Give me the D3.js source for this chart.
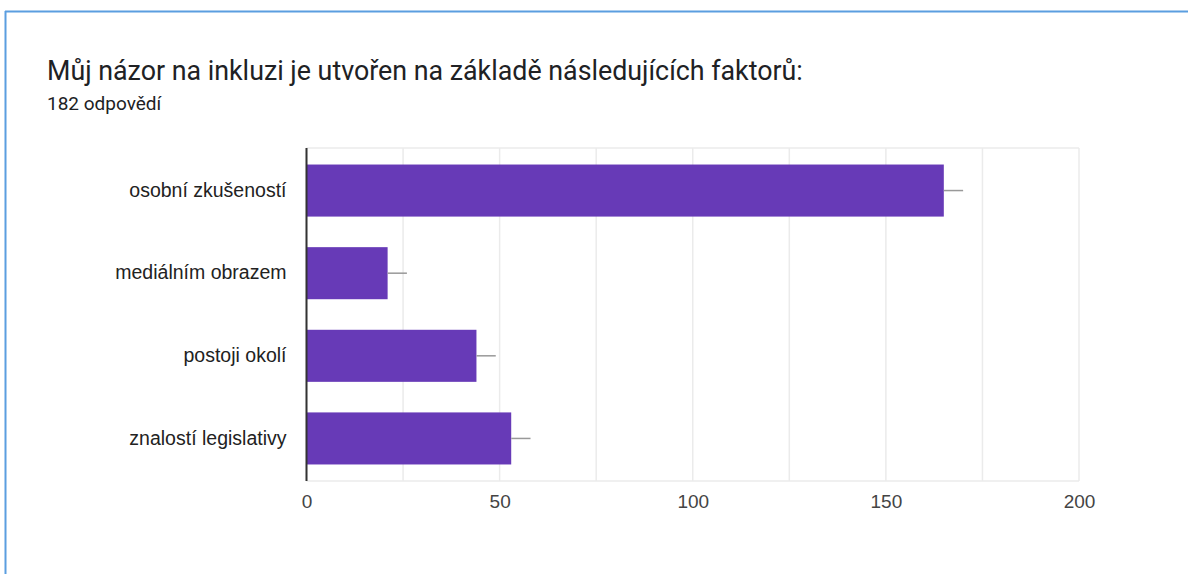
<!DOCTYPE html>
<html>
<head>
<meta charset="utf-8">
<script src="https://cdn.jsdelivr.net/npm/d3@7"></script>
<style>
  body { margin: 0; background: #fff; }
  svg { display: block; }
</style>
</head>
<body>
<div id="chart"></div>
<script>
// Data
const categories = ["osobní zkušeností", "mediálním obrazem", "postoji okolí", "znalostí legislativy"];
const counts = [165, 21, 44, 53];
const errors = [5, 5, 5, 5];
const xTicks = [0, 50, 100, 150, 200];
const gridTicks = [0, 25, 50, 75, 100, 125, 150, 175, 200];
const titleText = "Můj názor na inkluzi je utvořen na základě následujících faktorů:";
const subtitleText = "182 odpovědí";

const W = 1188, H = 574;
const plot = { left: 306.5, right: 1079, top: 148, bottom: 481 };

const svg = d3.select("#chart").append("svg")
  .attr("width", W)
  .attr("height", H);

// blue frame (top + left edge visible)
svg.append("line")
  .attr("x1", 5).attr("x2", W).attr("y1", 11.5).attr("y2", 11.5)
  .attr("stroke", "#5b9ee0").attr("stroke-width", 2);
svg.append("line")
  .attr("x1", 5.5).attr("x2", 5.5).attr("y1", 11).attr("y2", H)
  .attr("stroke", "#5b9ee0").attr("stroke-width", 2);

// title
svg.append("text")
  .attr("x", 47)
  .attr("y", 80)
  .attr("font-family", "Roboto, 'Open Sans', sans-serif")
  .attr("font-size", 26.8)
  .attr("fill", "#202124")
  .text(titleText);

svg.append("text")
  .attr("x", 47)
  .attr("y", 110)
  .attr("font-family", "Roboto, 'Open Sans', sans-serif")
  .attr("font-size", 19)
  .attr("fill", "#202124")
  .text(subtitleText);

const x = d3.scaleLinear().domain([0, 200]).range([plot.left, plot.right]);
const y = d3.scaleBand().domain(categories).range([plot.top, plot.bottom]).paddingInner(0.37).paddingOuter(0.2);

// gridlines
svg.append("g")
  .selectAll("line")
  .data(gridTicks)
  .join("line")
  .attr("x1", d => x(d)).attr("x2", d => x(d))
  .attr("y1", plot.top).attr("y2", plot.bottom)
  .attr("stroke", "#ebebeb")
  .attr("stroke-width", 1.5);

svg.append("line")
  .attr("x1", plot.left).attr("x2", plot.right)
  .attr("y1", plot.top).attr("y2", plot.top)
  .attr("stroke", "#ebebeb").attr("stroke-width", 1.5);
svg.append("line")
  .attr("x1", plot.left).attr("x2", plot.right)
  .attr("y1", plot.bottom).attr("y2", plot.bottom)
  .attr("stroke", "#ebebeb").attr("stroke-width", 1.5);

// bars
svg.append("g")
  .selectAll("rect")
  .data(counts)
  .join("rect")
  .attr("x", x(0))
  .attr("y", (d, i) => y(categories[i]))
  .attr("width", d => x(d) - x(0))
  .attr("height", y.bandwidth())
  .attr("fill", "#673ab7");

// whiskers
svg.append("g")
  .selectAll("line")
  .data(counts)
  .join("line")
  .attr("x1", d => x(d))
  .attr("x2", (d, i) => x(d + errors[i]))
  .attr("y1", (d, i) => y(categories[i]) + y.bandwidth() / 2)
  .attr("y2", (d, i) => y(categories[i]) + y.bandwidth() / 2)
  .attr("stroke", "#999")
  .attr("stroke-width", 1.5);

// left baseline
svg.append("line")
  .attr("x1", plot.left).attr("x2", plot.left)
  .attr("y1", plot.top).attr("y2", plot.bottom)
  .attr("stroke", "#333").attr("stroke-width", 2);

// category labels
const yAxis = d3.axisLeft(y).tickSize(0).tickPadding(20);
const yg = svg.append("g")
  .attr("transform", "translate(" + plot.left + ",0)")
  .call(yAxis);
yg.select(".domain").remove();
yg.selectAll("text")
  .attr("font-family", "Arial, 'Liberation Sans', sans-serif")
  .attr("font-size", 19.5)
  .attr("fill", "#222");

// x tick labels
const xAxis = d3.axisBottom(x).tickValues(xTicks).tickSize(0).tickPadding(14);
const xg = svg.append("g")
  .attr("transform", "translate(0," + plot.bottom + ")")
  .call(xAxis);
xg.select(".domain").remove();
xg.selectAll("text")
  .attr("font-family", "Arial, 'Liberation Sans', sans-serif")
  .attr("font-size", 19)
  .attr("fill", "#444");
</script>
</body>
</html>
